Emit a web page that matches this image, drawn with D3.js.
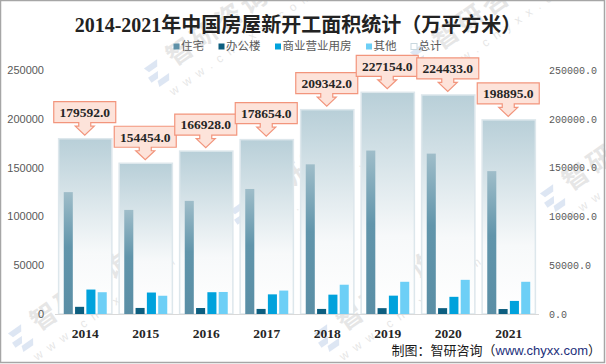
<!DOCTYPE html>
<html>
<head>
<meta charset="utf-8">
<script src="https://cdn.jsdelivr.net/npm/d3@7/dist/d3.min.js"></script>
<style>
html,body{margin:0;padding:0;background:#fff;}
svg{display:block;}
</style>
</head>
<body>
<svg id="chart" width="606" height="364"></svg>
<script>
const years = ["2014","2015","2016","2017","2018","2019","2020","2021"];
const seriesNames = ["住宅","办公楼","商业营业用房","其他","总计"];
const residential = [124877,106651,115911,128098,153353,167463,164329,146379];
const office = [7349,6200,6131,5200,5200,6000,6000,5100];
const commercial = [25048,22000,22317,20128,19817,18800,17600,13400];
const other = [22318,18704,22569,24000,30000,33000,35000,33000];
const total = [179592,154454,166928,178654,209342,227154,224433,198895];
const leftTicks = [0,50000,100000,150000,200000,250000];
const rightTicks = [0,50000,100000,150000,200000,250000];
const titleText = "2014-2021年中国房屋新开工面积统计（万平方米）";

const colors = {"住宅":"url(#gRes)","办公楼":"#0d5e7f","商业营业用房":"#00a2dc","其他":"#6dcff6"};
const legendColors = ["#5f91a8","#0d5e7f","#00a2dc","#6dcff6","#ffffff"];

const svg = d3.select("#chart");
const defs = svg.append("defs");
const gT = defs.append("linearGradient").attr("id","gTot").attr("x1",0).attr("y1",0).attr("x2",0).attr("y2",1);
gT.append("stop").attr("offset","0%").attr("stop-color","#b8cfd8");
gT.append("stop").attr("offset","40%").attr("stop-color","#dfe9ed");
gT.append("stop").attr("offset","65%").attr("stop-color","#f7f9fa");
gT.append("stop").attr("offset","100%").attr("stop-color","#ffffff");
const gR = defs.append("linearGradient").attr("id","gRes").attr("x1",0).attr("y1",0).attr("x2",0).attr("y2",1);
gR.append("stop").attr("offset","0%").attr("stop-color","#9fbdc9");
gR.append("stop").attr("offset","45%").attr("stop-color","#6195ab");
gR.append("stop").attr("offset","100%").attr("stop-color","#5a8ea5");

const W = 606, H = 364;
const plotL = 55, plotR = 539, yTop = 70, yBase = 314;

// watermarks
function watermark(x, y){
  const g = svg.append("g").attr("transform",`translate(${x},${y}) rotate(-35)`).attr("opacity",0.18);
  g.append("path").attr("d","M0,-14 h16 l-4,6 h-10 z M-2,-4 h12 l-4,6 h-8 z M4,4 h14 l-4,6 h-12 z").attr("fill","#4a78c2");
  g.append("text").attr("x",26).attr("y",2).attr("font-family","Noto Sans CJK SC").attr("font-weight","bold")
    .attr("font-size",26).attr("letter-spacing",4).attr("fill","#777").text("智研咨询");
  g.append("text").attr("x",8).attr("y",25).attr("font-family","Liberation Sans")
    .attr("font-size",12).attr("letter-spacing",7).attr("fill","#777").text("www.chyxx.com");
}
[[16,345],[152,80],[238,222],[322,345],[418,64],[548,205]].forEach(p=>watermark(p[0],p[1]));

// scales
const x = d3.scaleBand().domain(years).range([plotL, plotR]).padding(0);
const y = d3.scaleLinear().domain([0,250000]).range([yBase, yTop]);
const sub = ["住宅","办公楼","商业营业用房","其他"];
const subVals = {"住宅":residential,"办公楼":office,"商业营业用房":commercial,"其他":other};
const totW = x.bandwidth()*0.88;
const x1 = d3.scaleBand().domain(sub).range([-21.5,21.5]).paddingInner(0.2);

// total bars
svg.append("g").selectAll("rect").data(years).join("rect")
  .attr("x", d => x(d) + (x.bandwidth()-totW)/2)
  .attr("y", (d,i) => y(total[i]))
  .attr("width", totW)
  .attr("height", (d,i) => yBase - y(total[i]))
  .attr("fill","url(#gTot)")
  .attr("stroke","#dde7ec").attr("stroke-width",1.5);

// sub bars
sub.forEach(s => {
  svg.append("g").selectAll("rect").data(years).join("rect")
    .attr("x", d => x(d) + x.bandwidth()/2 + x1(s))
    .attr("y", (d,i) => y(subVals[s][i]))
    .attr("width", x1.bandwidth())
    .attr("height", (d,i) => yBase - y(subVals[s][i]))
    .attr("fill", colors[s]);
});

// baseline
svg.append("line").attr("x1",plotL).attr("x2",plotR).attr("y1",yBase+0.5).attr("y2",yBase+0.5)
  .attr("stroke","#d9d9d9").attr("stroke-width",1);

// axes
const axL = svg.append("g").attr("transform",`translate(${plotL},0)`)
  .call(d3.axisLeft(y).tickValues(leftTicks).tickSize(0).tickPadding(11).tickFormat(d3.format("d")));
axL.select(".domain").remove();
axL.selectAll("text").attr("font-family","Liberation Sans").attr("font-size",11).attr("fill","#595959");
const axR = svg.append("g").attr("transform",`translate(${plotR},0)`)
  .call(d3.axisRight(y).tickValues(rightTicks).tickSize(0).tickPadding(10).tickFormat(d3.format(".1f")));
axR.select(".domain").remove();
axR.selectAll("text").attr("font-family","Liberation Mono").attr("font-size",10).attr("fill","#595959");
const axB = svg.append("g").attr("transform",`translate(0,${yBase})`)
  .call(d3.axisBottom(x).tickSize(0).tickPadding(14));
axB.select(".domain").remove();
axB.selectAll("text").attr("font-family","Liberation Serif").attr("font-weight","bold").attr("font-size",13.5).attr("fill","#262626");

// callouts
const cg = svg.append("g");
years.forEach((d,i) => {
  const cx = x(d) + x.bandwidth()/2 - 0.5;
  const by = y(total[i]) - 37;
  const p = `M${cx-31},${by} H${cx+31} V${by+21} H${cx+6} V${by+24.5} H${cx+9.5} L${cx},${by+33.5} L${cx-9.5},${by+24.5} H${cx-6} V${by+21} H${cx-31} Z`;
  cg.append("path").attr("d",p).attr("fill","#fde3da").attr("stroke","#f2957c").attr("stroke-width",1.2);
  cg.append("text").attr("x",cx).attr("y",by+10.5).attr("dy","0.36em").attr("text-anchor","middle")
    .attr("font-family","Liberation Serif").attr("font-weight","bold").attr("font-size",13.5).attr("fill","#262626")
    .text(d3.format(".1f")(total[i]));
});

// title
svg.append("text").attr("x",298).attr("y",32).attr("text-anchor","middle")
  .attr("font-family","Liberation Serif, Noto Sans CJK SC").attr("font-weight","bold").attr("font-size",20)
  .attr("fill","#222").text(titleText);

// legend
const lg = svg.append("g");
let lx = 173;
seriesNames.forEach((s,i) => {
  lg.append("rect").attr("x",lx+0.5).attr("y",43.5).attr("width",6).attr("height",6)
    .attr("fill",legendColors[i]).attr("stroke", i===4 ? "#c9d8df" : "none");
  const t = lg.append("text").attr("x",lx+8).attr("y",46).attr("dy","0.36em")
    .attr("font-family","Noto Sans CJK SC").attr("font-size",11.5).attr("fill","#595959").text(s);
  lx += 8 + t.node().getComputedTextLength() + 14;
});

// source
const src = svg.append("text").attr("x",601).attr("y",355).attr("text-anchor","end")
  .attr("font-family","Noto Sans CJK SC").attr("font-size",13).attr("fill","#1a1a1a");
src.append("tspan").text("制图：智研咨询（");
src.append("tspan").attr("fill","#1c2f7a").attr("font-family","Liberation Sans").text("www.chyxx.com");
src.append("tspan").text("）");

// border
svg.append("rect").attr("x",0.5).attr("y",0.5).attr("width",W-2).attr("height",H-2)
  .attr("fill","none").attr("stroke","#a6a6a6").attr("stroke-width",1.5);
</script>
</body>
</html>
